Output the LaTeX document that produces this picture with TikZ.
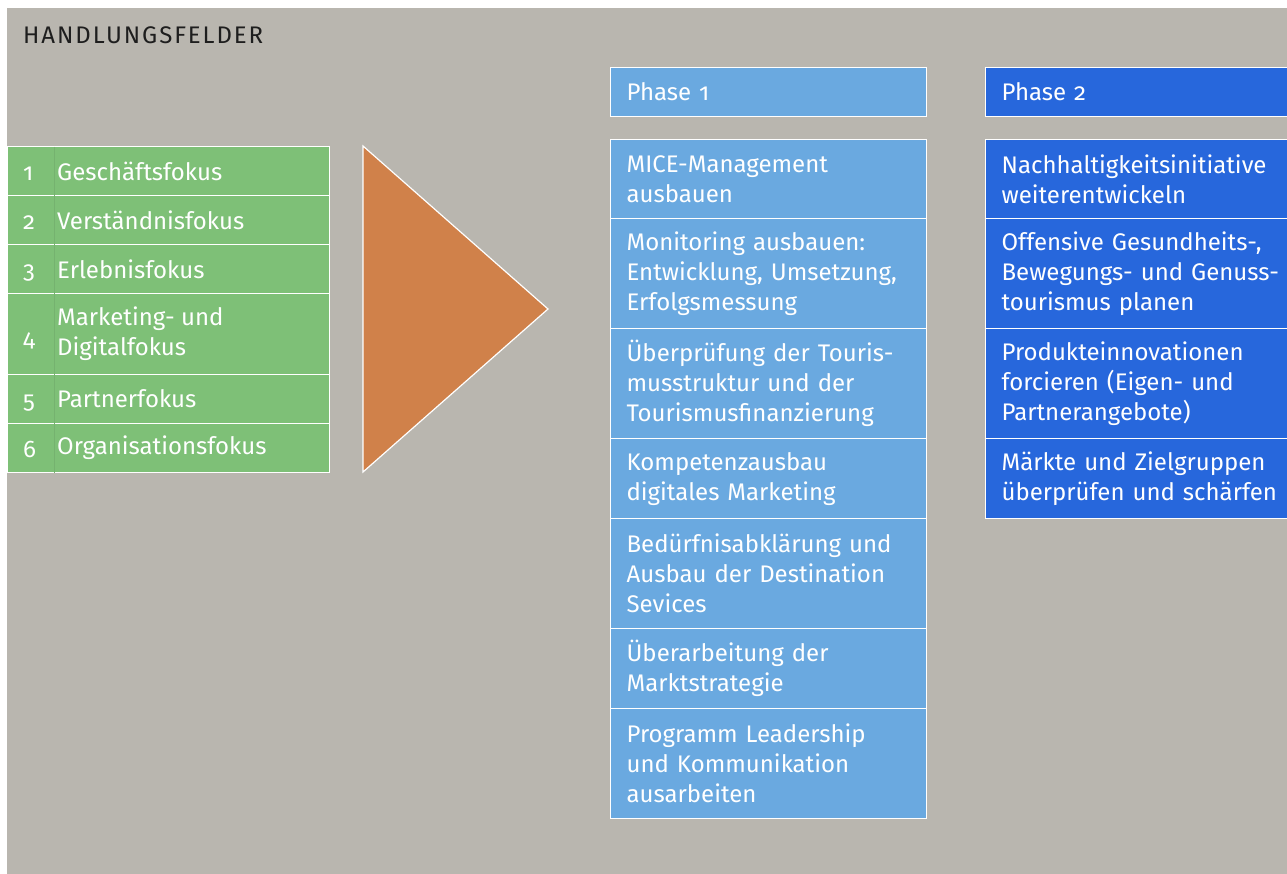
\documentclass[tikz,border=0pt]{standalone}
\usepackage{fontspec}
\setmainfont[Numbers=OldStyle]{Fira Sans}
\newfontfamily\headfont[LetterSpace=8]{Fira Sans}
\definecolor{bggray}{HTML}{B9B6AF}
\definecolor{fgreen}{HTML}{7EC077}
\definecolor{forange}{HTML}{D0814A}
\definecolor{lblue}{HTML}{6AA9E0}
\definecolor{dblue}{HTML}{2767DC}
\definecolor{titlegray}{HTML}{1E1E1E}
\begin{document}
\begin{tikzpicture}[x=1pt,y=-1pt,
  txt/.style={font=\fontsize{24}{30}\selectfont},
  cell/.style={draw=white, line width=1.2pt, anchor=north west,
    text=white, align=left, inner ysep=0pt},
  fieldbox/.style={cell, fill=fgreen, minimum width=322pt, inner sep=0pt},
  fieldtext/.style={txt, text=white, anchor=west, inner sep=0pt, align=left},
  fieldnum/.style={txt, text=white, anchor=base west, inner sep=0pt},
  phaseone/.style={cell, txt, fill=lblue, inner xsep=16pt, text width=284pt},
  phasetwo/.style={cell, txt, fill=dblue, inner xsep=16pt, text width=300pt}]

% page and grey panel
\useasboundingbox (0,0) rectangle (1287,874);
\fill[white] (0,0) rectangle (1287,874);
\fill[bggray] (7,8) rectangle (1287,874);

\node[font=\headfont\fontsize{24}{30}\selectfont, text=titlegray, anchor=base west, inner sep=0pt] (title) at (23,44) {HANDLUNGSFELDER};

% fields of action
\node[fieldbox, minimum height=49pt] (g1) at (7,146) {};
\node[fieldbox, minimum height=49pt] (g2) at (7,195) {};
\node[fieldbox, minimum height=49pt] (g3) at (7,244) {};
\node[fieldbox, minimum height=81pt] (g4) at (7,293) {};
\node[fieldbox, minimum height=49pt] (g5) at (7,374) {};
\node[fieldbox, minimum height=49pt] (g6) at (7,423) {};
\foreach \i/\lbl/\drop in {1/Geschäftsfokus/9, 2/Verständnisfokus/9, 3/Erlebnisfokus/9,
    4/{Marketing- und\\Digitalfokus}/12, 5/Partnerfokus/9, 6/Organisationsfokus/9}{
  \draw[fgreen!93!black, line width=0.6pt] ([xshift=47pt,yshift=-0.6pt]g\i.north west) -- ([xshift=47pt,yshift=0.6pt]g\i.south west);
  \node[fieldnum] (n\i) at ([xshift=16pt,yshift=-\drop pt]g\i.west) {\i};
  \node[fieldtext] (t\i) at ([xshift=50pt]g\i.west) {\lbl};
}

% arrow triangle
\draw[white, line width=1.2pt, fill=forange] (363,146) -- (363,472) -- (548,309) -- cycle;

% phase 1
\node[phaseone, minimum height=49pt] (p1) at (610,67) {Phase 1};
\node[phaseone, minimum height=79pt] (a1) at (610,139) {MICE-Management\\ausbauen};
\node[phaseone, minimum height=110pt] (a2) at (610,218) {Monitoring ausbauen:\\Entwicklung, Umsetzung,\\Erfolgsmessung};
\node[phaseone, minimum height=110pt] (a3) at (610,328) {Überprüfung der Touris-\\musstruktur und der\\Tourismusfinanzierung};
\node[phaseone, minimum height=80pt] (a4) at (610,438) {Kompetenzausbau\\digitales Marketing};
\node[phaseone, minimum height=110pt] (a5) at (610,518) {Bedürfnisabklärung und\\Ausbau der Destination\\Sevices};
\node[phaseone, minimum height=80pt] (a6) at (610,628) {Überarbeitung der\\Marktstrategie};
\node[phaseone, minimum height=110pt] (a7) at (610,708) {Programm Leadership\\und Kommunikation\\ausarbeiten};

% phase 2
\node[phasetwo, minimum height=49pt] (p2) at (985,67) {Phase 2};
\node[phasetwo, minimum height=79pt] (b1) at (985,139) {Nachhaltigkeitsinitiative\\weiterentwickeln};
\node[phasetwo, minimum height=110pt] (b2) at (985,218) {Offensive Gesundheits-,\\Bewegungs- und Genuss-\\tourismus planen};
\node[phasetwo, minimum height=110pt] (b3) at (985,328) {Produkteinnovationen\\forcieren (Eigen- und\\Partnerangebote)};
\node[phasetwo, minimum height=80pt] (b4) at (985,438) {Märkte und Zielgruppen\\überprüfen und schärfen};
\end{tikzpicture}
\end{document}
